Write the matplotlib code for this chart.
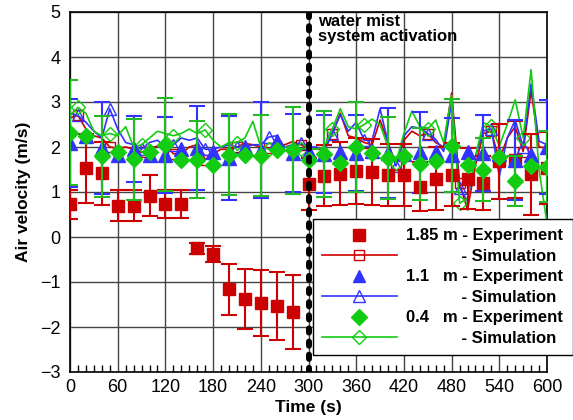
import matplotlib
matplotlib.use("Agg")
import matplotlib.pyplot as plt
from matplotlib.ticker import MultipleLocator

plt.rcParams['font.family'] = ['Liberation Sans', 'DejaVu Sans']

# ---------------- data ----------------
t_exp = [0, 20, 40, 60, 80, 100, 120, 140, 160, 180, 200, 220, 240, 260, 280,
         300, 320, 340, 360, 380, 400, 420, 440, 460, 480, 500, 520, 540, 560, 580, 600]

red_exp = [0.73, 1.53, 1.42, 0.70, 0.70, 0.92, 0.74, 0.74, -0.25, -0.37, -1.16, -1.38, -1.47, -1.53, -1.67,
           1.18, 1.36, 1.41, 1.47, 1.45, 1.38, 1.38, 1.12, 1.29, 1.38, 1.30, 1.21, 1.68, 1.72, 1.40, 1.53]
red_err = [0.32, 0.77, 0.70, 0.34, 0.35, 0.45, 0.31, 0.31, 0.12, 0.18, 0.57, 0.67, 0.73, 0.76, 0.82,
           0.57, 0.68, 0.70, 0.74, 0.73, 0.68, 0.68, 0.55, 0.70, 0.70, 0.67, 0.60, 0.83, 0.85, 0.90, 0.80]

blue_exp = [2.09, 2.25, 1.98, 1.82, 1.95, 1.82, 1.82, 1.95, 1.98, 1.90, 1.75, 2.01, 1.93, 2.13, 1.86,
            1.88, 1.85, 1.90, 1.87, 1.92, 1.87, 1.85, 1.88, 1.90, 1.83, 1.88, 1.87, 1.85, 1.72, 1.82, 2.00]
blue_err = [0.98, 0.90, 1.03, 0.90, 0.73, 0.90, 0.84, 0.90, 0.94, 0.90, 0.93, 0.90, 1.06, 0.90, 0.87,
            0.90, 0.87, 0.90, 0.85, 0.90, 1.00, 0.90, 0.90, 0.90, 0.82, 0.90, 0.85, 0.90, 0.89, 0.90, 1.05]

green_exp = [2.32, 2.25, 1.79, 1.90, 1.73, 1.90, 2.05, 1.72, 1.72, 1.61, 1.83, 1.83, 1.81, 1.93, 1.93,
             1.72, 1.84, 1.64, 2.01, 1.87, 1.76, 1.79, 1.62, 1.68, 2.03, 1.61, 1.50, 1.77, 1.24, 1.57, 1.56]
green_err = [1.16, 0.90, 0.90, 0.90, 0.90, 0.90, 1.03, 0.90, 0.85, 0.90, 0.90, 0.90, 0.90, 0.90, 0.97,
             0.90, 0.95, 0.90, 1.00, 0.90, 0.91, 0.90, 0.80, 0.90, 1.04, 0.90, 0.70, 0.90, 0.56, 0.90, 0.79]

t_sim = list(range(0, 601, 10))

red_sim = [2.65, 2.70, 2.40, 2.25, 2.20, 2.00, 1.97, 2.00, 1.95, 1.88,
           1.97, 2.02, 2.05, 1.85, 1.85, 2.00, 2.05, 1.72, 1.85, 1.95,
           1.95, 2.00, 2.08, 2.05, 2.00, 1.98, 2.00, 2.05, 2.12, 2.05,
           1.98, 1.95, 1.95, 2.30, 2.75, 2.25, 2.20, 2.10, 2.05, 2.60,
           2.10, 1.60, 2.15, 2.35, 2.25, 2.30, 2.10, 2.00, 3.20, 1.20,
           0.60, 1.60, 2.30, 2.35, 1.70, 2.20, 2.45, 1.90, 3.25, 2.00, 1.98]
blue_sim = [2.75, 2.70, 2.55, 2.35, 2.20, 2.85, 2.40, 2.10, 2.05, 1.95,
            2.10, 2.15, 2.00, 2.05, 2.20, 2.15, 2.20, 1.95, 1.95, 2.00,
            2.05, 2.00, 2.00, 2.05, 2.05, 2.22, 2.25, 2.00, 2.05, 2.08,
            2.00, 2.00, 1.92, 2.30, 2.72, 2.35, 2.55, 2.15, 2.15, 2.85,
            2.10, 1.58, 2.25, 2.45, 2.42, 2.30, 2.17, 1.90, 3.00, 1.10,
            0.80, 1.80, 2.36, 2.40, 1.35, 2.20, 2.60, 2.00, 3.40, 2.13, 2.05]
green_sim = [2.70, 2.88, 2.75, 2.35, 2.25, 2.30, 2.25, 2.45, 2.00, 2.05,
             2.20, 2.35, 2.30, 2.25, 2.30, 2.40, 2.30, 2.38, 2.15, 2.00,
             2.10, 2.10, 2.20, 2.57, 2.00, 1.95, 2.00, 2.00, 2.00, 1.95,
             1.98, 1.95, 2.00, 2.40, 2.85, 2.45, 2.40, 2.50, 2.62, 2.50,
             2.00, 1.65, 2.30, 2.80, 2.46, 2.40, 2.60, 2.10, 3.15, 0.75,
             0.86, 1.80, 2.54, 2.46, 2.02, 2.50, 3.05, 2.20, 3.72, 1.50, 0.30]

activation_time = 300
x_ticks = [0, 60, 120, 180, 240, 300, 360, 420, 480, 540, 600]
y_ticks = [-3, -2, -1, 0, 1, 2, 3, 4, 5]

RED = '#cc0000'
BLUE = '#3333ff'
GREEN = '#11cc11'
GREEN_BAR = '#22bb22'

# ---------------- figure ----------------
fig = plt.figure(figsize=(5.73, 4.2), dpi=100)
ax = fig.add_axes([70 / 573, 48 / 420, 477 / 573, 360 / 420])

ax.set_xlim(0, 600)
ax.set_ylim(-3, 5)
ax.set_xticks(x_ticks)
ax.set_yticks(y_ticks)
ax.xaxis.set_minor_locator(MultipleLocator(10))
ax.grid(True, which='major', color='#444444', lw=1.0, zorder=0)
ax.set_axisbelow(True)
ax.tick_params(axis='both', which='major', direction='in', length=0, labelsize=13, pad=5)
ax.tick_params(axis='y', which='major', pad=7)
ax.tick_params(axis='x', which='minor', direction='in', length=5, width=1, top=False)
ax.tick_params(axis='y', which='minor', left=False)
for s in ax.spines.values():
    s.set_linewidth(1.2)
    s.set_color('black')

# simulations
ax.plot(t_sim, red_sim, color=RED, lw=1.2, marker='s', ms=7, mfc='none', mec=RED,
        mew=1.0, markevery=(1, 4), zorder=3)
ax.plot(t_sim, blue_sim, color=BLUE, lw=1.2, marker='^', ms=8, mfc='none', mec=BLUE,
        mew=1.0, markevery=(1, 4), zorder=3)
ax.plot(t_sim, green_sim, color=GREEN, lw=1.2, marker='D', ms=7, mfc='none', mec=GREEN,
        mew=1.0, markevery=(1, 4), zorder=3)

# experiments
ax.errorbar(t_exp, red_exp, yerr=red_err, fmt='s', color=RED, ms=9, mec=RED,
            ecolor=RED, elinewidth=1.5, capsize=5.5, capthick=1.5, zorder=4)
ax.errorbar(t_exp, blue_exp, yerr=blue_err, fmt='^', color=BLUE, ms=9.5, mec=BLUE,
            ecolor=BLUE, elinewidth=1.5, capsize=5.5, capthick=1.5, errorevery=2, zorder=4)
ax.errorbar(t_exp, green_exp, yerr=green_err, fmt='D', color=GREEN, ms=8.5, mec=GREEN,
            ecolor=GREEN_BAR, elinewidth=1.5, capsize=5.5, capthick=1.5, errorevery=2, zorder=5)

# activation line
ax.axvline(activation_time, color='black', lw=4.3, ls=(0, (0.7, 1.5)),
           dash_capstyle='round', zorder=6)
ax.text(312, 4.95, 'water mist\nsystem activation', fontsize=12, fontweight='bold',
        va='top', ha='left', linespacing=1.0, zorder=7)

ax.set_xlabel('Time (s)', fontsize=12.5, fontweight='bold', labelpad=3)
ax.set_ylabel('Air velocity (m/s)', fontsize=12.5, fontweight='bold', labelpad=6)

# legend
h_re = plt.Line2D([], [], ls='none', marker='s', ms=8.5, color=RED)
h_be = plt.Line2D([], [], ls='none', marker='^', ms=9, color=BLUE)
h_ge = plt.Line2D([], [], ls='none', marker='D', ms=8, color=GREEN)
h_rs = plt.Line2D([], [], color=RED, lw=1.2, marker='s', ms=7, mfc='none', mec=RED)
h_bs = plt.Line2D([], [], color=BLUE, lw=1.2, marker='^', ms=8, mfc='none', mec=BLUE)
h_gs = plt.Line2D([], [], color=GREEN, lw=1.2, marker='D', ms=7, mfc='none', mec=GREEN)
labels = ['1.85 m - Experiment', '            - Simulation',
          '1.1   m - Experiment', '            - Simulation',
          '0.4   m - Experiment', '            - Simulation']
leg = ax.legend([h_re, h_rs, h_be, h_bs, h_ge, h_gs], labels,
                loc='lower left', bbox_to_anchor=(0.509, 0.047, 0.545, 0.378),
                mode='expand', prop={'weight': 'bold', 'size': 12},
                handlelength=4.5, handletextpad=0.55, labelspacing=0.33,
                borderpad=0.55, borderaxespad=0, frameon=True, fancybox=False,
                edgecolor='black', framealpha=1, numpoints=1)
leg.get_frame().set_linewidth(1.0)
leg.set_zorder(10)

fig.savefig('out.png', dpi=100)
